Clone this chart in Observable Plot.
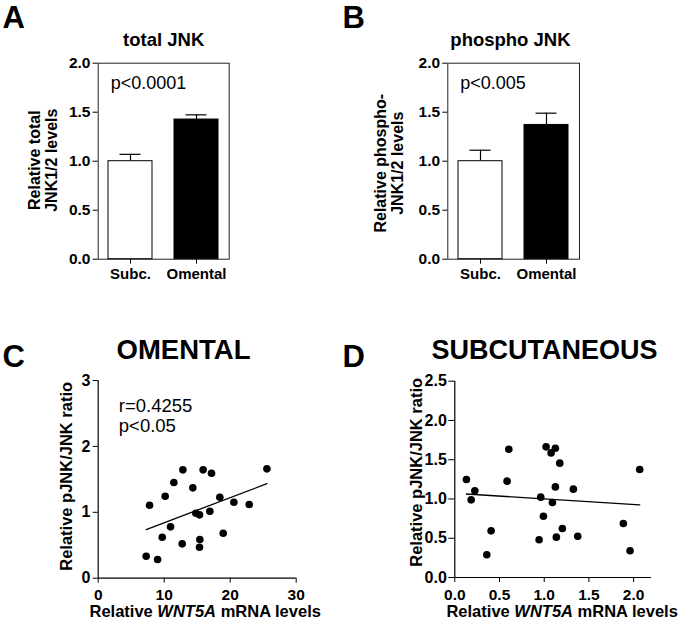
<!DOCTYPE html>
<html><head><meta charset="utf-8">
<script src="https://cdn.jsdelivr.net/npm/d3@7"></script>
<script src="https://cdn.jsdelivr.net/npm/@observablehq/plot@0.6"></script>
<style>
body{margin:0;background:#fff;}
#root{position:relative;width:685px;height:623px;overflow:hidden;background:#fff;}
.panel{position:absolute;}
</style></head><body><div id="root"></div>
<script>
// ---- data ----
const groups = ["Subc.", "Omental"];
const totalMean = [1.00, 1.425];
const totalSem = [0.07, 0.048];
const phosphoMean = [1.00, 1.37];
const phosphoSem = [0.112, 0.12];

const omentalWnt5a = [7.27, 9.0, 7.78, 9.7, 10.15, 10.96, 11.46, 12.73, 12.83, 14.34, 14.8, 15.35, 15.4, 15.35, 15.9, 17.17, 16.92, 18.43, 18.94, 20.56, 22.88, 25.56];
const omentalRatio = [0.334, 0.283, 1.108, 0.622, 1.244, 0.779, 1.452, 0.521, 1.644, 1.371, 0.986, 0.961, 0.587, 0.47, 1.644, 1.593, 1.017, 1.229, 0.683, 1.153, 1.118, 1.659];

const subcWnt5a = [0.130, 0.183, 0.224, 0.358, 0.406, 0.585, 0.604, 0.943, 0.961, 0.991, 1.021, 1.077, 1.092, 1.125, 1.125, 1.136, 1.174, 1.203, 1.326, 1.375, 1.885, 1.960, 2.068];
const subcRatio = [1.248, 0.989, 1.104, 0.289, 0.594, 1.227, 1.634, 0.480, 1.023, 0.781, 1.664, 1.587, 0.955, 1.647, 1.154, 0.514, 1.456, 0.624, 1.125, 0.526, 0.688, 0.340, 1.375];

const barTicks = [0, 0.5, 1, 1.5, 2];
const omentalXTicks = [0, 10, 20, 30];
const omentalYTicks = [0, 1, 2, 3];
const subcXTicks = [0, 0.5, 1, 1.5, 2];
const subcYTicks = [0, 0.5, 1, 1.5, 2, 2.5];

const FONT = "'Liberation Sans', Arial, Helvetica, sans-serif";
const XLABEL = "Relative WNT5A mRNA levels";
const YLABEL_SCATTER = "Relative pJNK/JNK ratio";

function place(el, left, top) {
  const d = document.createElement("div");
  d.className = "panel";
  d.style.left = left + "px";
  d.style.top = top + "px";
  d.appendChild(el);
  document.getElementById("root").appendChild(d);
}

function italicize(svg) {
  svg.querySelectorAll("text").forEach(t => {
    if (t.textContent === XLABEL) {
      t.textContent = "";
      const parts = [["Relative ", "normal"], ["WNT5A", "italic"], [" mRNA levels", "normal"]];
      for (const [s, st] of parts) {
        const ts = document.createElementNS("http://www.w3.org/2000/svg", "tspan");
        ts.setAttribute("font-style", st);
        ts.textContent = s;
        t.appendChild(ts);
      }
    }
  });
}

function barPanel({means, sems, title, letter, note, width, marginLeft, marginRight, labelOffset, labelDy, ylabel, titleDx, letterDx}) {
  const rows = groups.map((g, i) => ({group: g, mean: means[i], upper: means[i] + sems[i]}));
  return Plot.plot({
    width, height: 300,
    marginLeft, marginRight, marginTop: 62.7, marginBottom: 41.3,
    style: {fontFamily: FONT, background: "white", color: "black", overflow: "visible"},
    x: {domain: groups, paddingInner: 0.337, paddingOuter: 0.155},
    y: {domain: [0, 2]},
    color: {domain: groups, range: ["white", "black"]},
    marks: [
      Plot.frame({stroke: "#222", strokeWidth: 1}),
      Plot.ruleX(rows, {x: "group", y1: "mean", y2: "upper", stroke: "black", strokeWidth: 1.2}),
      Plot.tickY(rows, {x: "group", y: "upper", insetLeft: 11.5, insetRight: 11.5, stroke: "black", strokeWidth: 1.2}),
      Plot.barY(rows, {x: "group", y: "mean", fill: "group", stroke: "black", strokeWidth: 1}),
      Plot.axisY({ticks: barTicks, tickFormat: d3.format(".1f"), tickSize: 5, tickPadding: 2.7,
        fontSize: 15.5, fontWeight: "bold", label: null}),
      Plot.axisX({tickSize: 5, tickPadding: 4.6, fontSize: 15, fontWeight: "bold", label: null}),
      Plot.text([ylabel], {text: d => d, frameAnchor: "left", rotate: -90, textAnchor: "middle", lineAnchor: "top", dx: -labelOffset, dy: labelDy,
        fontSize: 16, fontWeight: "bold", lineHeight: 1.08}),
      Plot.text([note], {text: d => d, frameAnchor: "top-left", textAnchor: "start", lineAnchor: "top", dx: 12.5, dy: 13.3, fontSize: 18}),
      Plot.text([title], {text: d => d, frameAnchor: "top", lineAnchor: "bottom", dx: titleDx, dy: -17.7, fontSize: 18.5, fontWeight: "bold"}),
      Plot.text([letter], {text: d => d, frameAnchor: "top-left", textAnchor: "start", lineAnchor: "bottom", dx: letterDx, dy: -35.7, fontSize: 31, fontWeight: "bold"})
    ]
  });
}

function scatterPanel({xs, ys, xDomain, xTicks, xFormat, yDomain, yTicks, yFormat, width, marginLeft, marginRight, marginTop, marginBottom,
                       labelOffset, labelDy, yTickSize, yTickPadding, note, title, titleDx, titleDy, titleSize, letter, letterDx, letterDy, xlabelDx, xlabelDy}) {
  const rows = xs.map((x, i) => ({x, y: ys[i]}));
  const marks = [
    Plot.ruleX([xDomain[0]], {stroke: "black", strokeWidth: 1.2}),
    Plot.ruleY([yDomain[0]], {stroke: "black", strokeWidth: 1.2}),
    Plot.linearRegressionY(rows, {x: "x", y: "y", ci: 0, stroke: "black", strokeWidth: 1.3}),
    Plot.dot(rows, {x: "x", y: "y", r: 3.8, fill: "black"}),
    Plot.axisY({ticks: yTicks, tickFormat: yFormat, tickSize: yTickSize, tickPadding: yTickPadding,
      fontSize: 16, fontWeight: "bold", label: null}),
    Plot.axisX({ticks: xTicks, tickFormat: xFormat, tickSize: 5, tickPadding: 6, fontSize: 15.5, fontWeight: "bold", label: null}),
    Plot.text([YLABEL_SCATTER], {text: d => d, frameAnchor: "left", rotate: -90, textAnchor: "middle", lineAnchor: "top", dx: -labelOffset, dy: labelDy,
      fontSize: 16.5, fontWeight: "bold"}),
    Plot.text([XLABEL], {text: d => d, frameAnchor: "bottom", lineAnchor: "bottom", dx: xlabelDx, dy: xlabelDy, fontSize: 16.5, fontWeight: "bold"}),
    Plot.text([title], {text: d => d, frameAnchor: "top", lineAnchor: "bottom", dx: titleDx, dy: titleDy, fontSize: titleSize, fontWeight: "bold"}),
    Plot.text([letter], {text: d => d, frameAnchor: "top-left", textAnchor: "start", lineAnchor: "bottom", dx: letterDx, dy: letterDy, fontSize: 31, fontWeight: "bold"})
  ];
  if (note) marks.push(Plot.text([note], {text: d => d, frameAnchor: "top-left", textAnchor: "start", lineAnchor: "top", dx: 20.6, dy: 16.7, fontSize: 18.5, lineHeight: 1.1}));
  const svg = Plot.plot({
    width, height: 293,
    marginLeft, marginRight, marginTop, marginBottom,
    style: {fontFamily: FONT, background: "white", color: "black", overflow: "visible"},
    x: {domain: xDomain},
    y: {domain: yDomain},
    marks
  });
  italicize(svg);
  return svg;
}

place(barPanel({means: totalMean, sems: totalSem, title: "total JNK", letter: "A", note: "p<0.0001",
  width: 340, marginLeft: 97.7, marginRight: 111.3, labelOffset: 70.5, labelDy: -1, ylabel: "Relative total\nJNK1/2 levels",
  titleDx: 0, letterDx: -95.7}), 0, 0);

place(barPanel({means: phosphoMean, sems: phosphoSem, title: "phospho JNK", letter: "B", note: "p<0.005",
  width: 345, marginLeft: 107.3, marginRight: 106, labelOffset: 74, labelDy: 2, ylabel: "Relative phospho-\nJNK1/2 levels",
  titleDx: -3.2, letterDx: -105.3}), 340, 0);

place(scatterPanel({xs: omentalWnt5a, ys: omentalRatio, xDomain: [0, 30], xTicks: omentalXTicks, xFormat: d3.format("d"),
  yDomain: [0, 3], yTicks: omentalYTicks, yFormat: d3.format("d"),
  width: 340, marginLeft: 97.7, marginRight: 44.3, marginTop: 50, marginBottom: 45.3,
  labelOffset: 37.7, labelDy: -3, yTickSize: 5, yTickPadding: 2.7, note: "r=0.4255\np<0.05",
  title: "OMENTAL", titleDx: -13.7, titleDy: -21.7, titleSize: 27.5, letter: "C", letterDx: -95.7, letterDy: -13.3,
  xlabelDx: 8, xlabelDy: 38.5}), 0, 330);

place(scatterPanel({xs: subcWnt5a, ys: subcRatio, xDomain: [0, 2.2], xTicks: subcXTicks, xFormat: d3.format(".1f"),
  yDomain: [0, 2.5], yTicks: subcYTicks, yFormat: d3.format(".1f"),
  width: 345, marginLeft: 114.3, marginRight: 34, marginTop: 50.7, marginBottom: 46,
  labelOffset: 45, labelDy: -7, yTickSize: 6, yTickPadding: 2, note: null,
  title: "SUBCUTANEOUS", titleDx: -8.7, titleDy: -22.4, titleSize: 27, letter: "D", letterDx: -112.3, letterDy: -14,
  xlabelDx: 9, xlabelDy: 39}), 340, 330);
</script>
</body></html>
